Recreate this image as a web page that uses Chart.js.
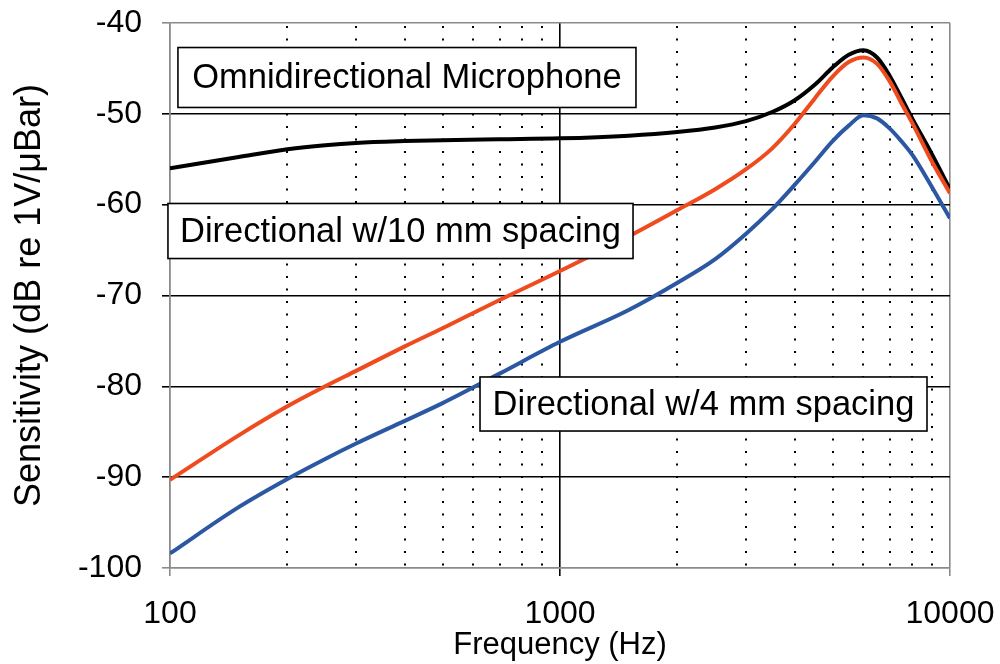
<!DOCTYPE html>
<html><head><meta charset="utf-8">
<script src="https://cdn.jsdelivr.net/npm/chart.js@4.4.1/dist/chart.umd.min.js"></script>
<style>html,body{margin:0;padding:0;background:#fff;} #wrap{width:1000px;height:664px;}</style>
</head><body><div id="wrap"><canvas id="c" width="1000" height="664"></canvas></div>
<script>
// ---- data ----
const frequencies = [100,150,200,250,300,400,500,700,1000,1500,2000,2500,3000,3500,4000,4500,5000,5500,6000,6500,7000,7500,8000,9000,10000];
const omniSeries  = [-56.0,-54.75,-53.9,-53.45,-53.2,-53.0,-52.9,-52.8,-52.7,-52.4,-52.0,-51.5,-50.8,-49.8,-48.5,-46.8,-44.9,-43.5,-43.0,-43.8,-45.8,-48.2,-50.5,-54.5,-58.3];
const dir10Series = [-90.3,-85.4,-82.2,-80.0,-78.3,-75.6,-73.6,-70.5,-67.3,-63.5,-60.6,-58.3,-56.1,-53.8,-51.1,-48.3,-45.9,-44.3,-43.8,-44.5,-46.4,-48.8,-51.0,-55.3,-58.75];
const dir4Series  = [-98.4,-93.3,-90.2,-88.0,-86.3,-83.8,-81.85,-78.6,-75.1,-71.6,-68.6,-66.0,-63.2,-60.5,-57.8,-55.3,-53.0,-51.3,-50.15,-50.5,-51.6,-53.0,-54.5,-58.1,-61.5];
const seriesNames = ['Omnidirectional Microphone','Directional w/10 mm spacing','Directional w/4 mm spacing'];
const xTickValues = [100,1000,10000];
const xMinorValues = [200,300,400,500,600,700,800,900,2000,3000,4000,5000,6000,7000,8000,9000];
const yTickValues = [-100,-90,-80,-70,-60,-50,-40];
const xTitle = 'Frequency (Hz)';
const yTitle = 'Sensitivity (dB re 1V/\u03BCBar)';

const FONT = '"Liberation Sans", Arial, Helvetica, sans-serif';
const toPts = arr => frequencies.map((f,i)=>({x:f,y:arr[i]}));

// label boxes (anchored in data space)
const boxDefs = [
  {text: seriesNames[0], x0:104.8, x1:1566, y0:-42.7, y1:-49.3},
  {text: seriesNames[1], x0:98.8,  x1:1539, y0:-59.87, y1:-65.93},
  {text: seriesNames[2], x0:623.6, x1:8730, y0:-78.97, y1:-84.92}
];

const zeroPad = s => { s.paddingTop = 0; s.paddingBottom = 0; s.paddingLeft = 0; s.paddingRight = 0; };

const minorGrid = {
  id:'minorGrid',
  beforeDatasetsDraw(chart){
    const {ctx, chartArea:a, scales:{x}} = chart;
    ctx.save();
    ctx.strokeStyle='#000'; ctx.lineWidth=2; ctx.setLineDash([2,10.5]);
    xMinorValues.forEach(f=>{
      const px=Math.round(x.getPixelForValue(f));
      ctx.beginPath(); ctx.moveTo(px,a.top+3); ctx.lineTo(px,a.bottom); ctx.stroke();
    });
    ctx.restore();
  }
};
const labelBoxes = {
  id:'labelBoxes',
  afterDatasetsDraw(chart){
    const {ctx, scales:{x,y}} = chart;
    ctx.save();
    boxDefs.forEach(b=>{
      const l=x.getPixelForValue(b.x0), r=x.getPixelForValue(b.x1);
      const t=y.getPixelForValue(b.y0), bt=y.getPixelForValue(b.y1);
      ctx.fillStyle='#fff'; ctx.fillRect(l,t,r-l,bt-t);
      ctx.strokeStyle='#000'; ctx.lineWidth=1.6; ctx.strokeRect(l,t,r-l,bt-t);
      ctx.fillStyle='#000'; ctx.font='34.5px '+FONT; ctx.textAlign='center'; ctx.textBaseline='middle';
      ctx.fillText(b.text,(l+r)/2,(t+bt)/2+1);
    });
    ctx.restore();
  }
};

new Chart(document.getElementById('c'), {
  type:'line',
  data:{datasets:[
    {label:seriesNames[2], data:toPts(dir4Series), borderColor:'#2B57A3', borderWidth:4, pointRadius:0, cubicInterpolationMode:'monotone'},
    {label:seriesNames[1], data:toPts(dir10Series), borderColor:'#EF4B1F', borderWidth:4, pointRadius:0, cubicInterpolationMode:'monotone'},
    {label:seriesNames[0], data:toPts(omniSeries), borderColor:'#000000', borderWidth:4, pointRadius:0, cubicInterpolationMode:'monotone'}
  ]},
  options:{
    responsive:false, animation:false, devicePixelRatio:1,
    layout:{padding:{left:0,right:50,top:23,bottom:0}},
    plugins:{legend:{display:false}, tooltip:{enabled:false}},
    scales:{
      x:{
        type:'logarithmic', min:100, max:10000,
        afterBuildTicks(s){ s.ticks = xTickValues.map(v=>({value:v})); },
        afterFit(s){ s.height = 96; zeroPad(s); },
        ticks:{callback:v=>String(v), color:'#000', font:{family:FONT,size:32}, padding:19, maxRotation:0, autoSkip:false},
        grid:{color:c=> (c.tick && c.tick.value===1000) ? '#000' : '#8a8a8a', lineWidth:1.6, tickLength:8},
        border:{color:'#8a8a8a', width:1.5},
        title:{display:true, text:xTitle, color:'#000', font:{family:FONT,size:31}, padding:{top:0,bottom:0}}
      },
      y:{
        min:-100, max:-40,
        afterBuildTicks(s){ s.ticks = yTickValues.map(v=>({value:v})); },
        afterFit(s){ s.width = 170; zeroPad(s); },
        ticks:{color:'#000', font:{family:FONT,size:32}, padding:20},
        grid:{color:c=> (c.tick && (c.tick.value===-40 || c.tick.value===-100)) ? '#8a8a8a' : '#000', lineWidth:1.6, tickLength:8},
        border:{color:'#8a8a8a', width:1.5},
        title:{display:true, text:yTitle, color:'#000', font:{family:FONT,size:36}, padding:{top:8,bottom:0}}
      }
    }
  },
  plugins:[minorGrid,labelBoxes]
});
</script></body></html>
